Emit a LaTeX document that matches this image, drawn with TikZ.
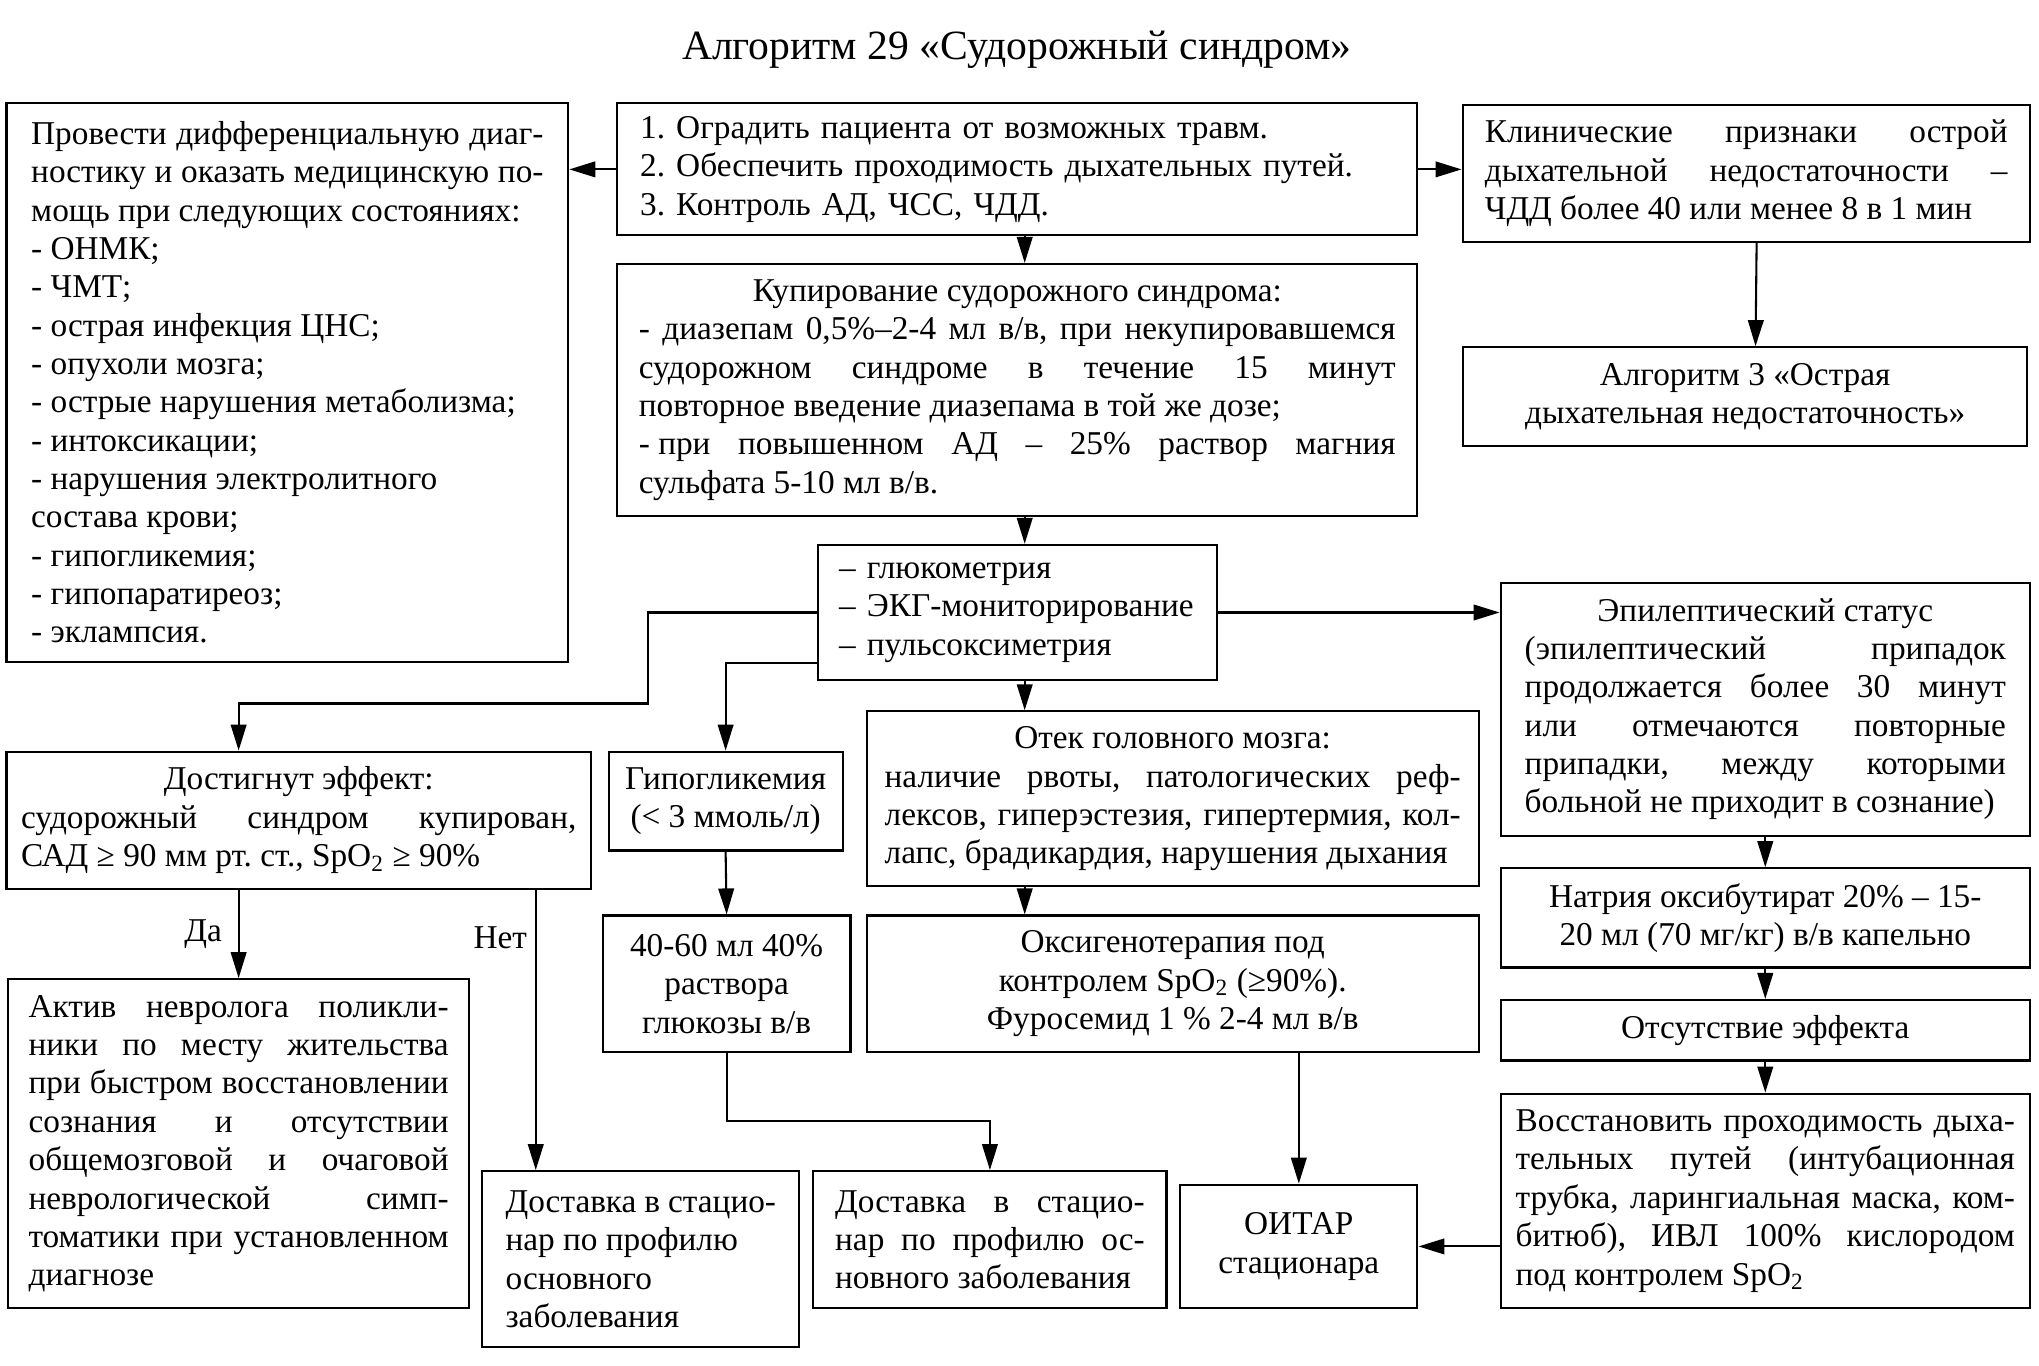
\documentclass[tikz,border=0pt]{standalone}
\usepackage{fontspec}
\setmainfont{Liberation Serif}
\usepackage{tikz}
\usetikzlibrary{arrows.meta,positioning}
\setlength{\parindent}{0pt}
\frenchspacing
\sloppy
\tikzset{
  blk/.style={ draw, line width=0.8pt, inner sep=0pt, font=\fontsize{12.8pt}{14.75pt}\selectfont }
}
\tikzset{
  jblk/.style={ blk, align=justify }
}
\tikzset{
  cblk/.style={ blk, align=center }
}
\tikzset{
  lblk/.style={ blk, align=left }
}
\tikzset{
  arr/.style={ -{Triangle[length=10pt,width=6pt]}, line width=0.8pt }
}
\begin{document}
\begin{tikzpicture}[x=0.5pt, y=-0.5pt]
      \fill[white] (0,0) rectangle (1568,1050);
      \useasboundingbox (0,0) rectangle (1568,1050);
      \node[font=\fontsize{16pt}{19pt}\selectfont] (title) at (782,38) {Алгоритм 29 «Судорожный синдром»};

      \node[jblk, minimum width=216pt, minimum height=214.75pt, text width=197pt] (diag) at (221,294)
        {Провести дифференциальную диаг-\linebreak ностику и оказать медицинскую по-\linebreak мощь при следующих состояниях:\\
         - ОНМК;\\ - ЧМТ;\\ - острая инфекция ЦНС;\\ - опухоли мозга;\\ - острые нарушения метаболизма;\\
         - интоксикации;\\ - нарушения электролитного\\ состава крови;\\ - гипогликемия;\\ - гипопаратиреоз;\\ - эклампсия.};
      \node[lblk, minimum width=307.7pt, minimum height=50.75pt, text width=290pt] (steps) at (782.3,130.25)
        {1. Оградить пациента от возможных травм.\\ 2. Обеспечить проходимость дыхательных путей.\\ 3. Контроль АД, ЧСС, ЧДД.};
      \node[jblk, minimum width=218.15pt, minimum height=52.65pt, text width=201pt] (clin) at (1342.85,133.35)
        {Клинические признаки острой\linebreak дыхательной недостаточности –\linebreak ЧДД более 40 или менее 8 в 1 мин};
      \node[jblk, minimum width=307.7pt, minimum height=97pt, text width=291pt] (kupir) at (782.3,300)
        {{\centering Купирование судорожного синдрома:\par}
         - диазепам 0,5\%–2-4 мл в/в, при некупировавшемся\linebreak судорожном синдроме в течение 15 минут\linebreak
         повторное введение диазепама в той же дозе;\\ -\hspace{0.25em}при повышенном АД – 25\% раствор магния\linebreak сульфата 5-10 мл в/в.};
      \node[cblk, minimum width=217pt, minimum height=38pt] (alg3) at (1342,305)
        {Алгоритм 3 «Острая\\ дыхательная недостаточность»};
      \node[lblk, minimum width=153.3pt, minimum height=52pt, text width=137pt] (gluc) at (782.3,471)
        {– глюкометрия\\ – ЭКГ-мониторирование\\ – пульсоксиметрия};
      \node[jblk, minimum width=203.5pt, minimum height=97.3pt, text width=185pt] (epi) at (1357.5,545.3)
        {{\centering Эпилептический статус\par}
         (эпилептический припадок\linebreak продолжается более 30 минут\linebreak или отмечаются повторные\linebreak
         припадки, между которыми\linebreak больной не приходит в сознание)};
      \node[jblk, minimum width=224.75pt, minimum height=52.75pt, text width=213.5pt] (dostig) at (229.75,630.75)
        {{\centering Достигнут эффект:\par}
         судорожный синдром купирован,\linebreak САД ≥ 90 мм рт. ст., SpO\textsubscript{2} ≥ 90\%};
      \node[cblk, minimum width=90pt, minimum height=38pt] (gipo) at (558,616)
        {Гипогликемия\\ (< 3 ммоль/л)};
      \node[jblk, minimum width=235.2pt, minimum height=67.3pt, text width=221.5pt] (otek) at (901.8,614.3)
        {{\centering Отек головного мозга:\par}
         наличие рвоты, патологических реф-\linebreak лексов, гиперэстезия, гипертермия, кол-\linebreak лапс, брадикардия, нарушения дыхания};
      \node[cblk, minimum width=203.5pt, minimum height=38.15pt] (natria) at (1357.5,705.85)
        {Натрия оксибутират 20\% – 15-\\ 20 мл (70 мг/кг) в/в капельно};
      \node[jblk, minimum width=177.5pt, minimum height=126.5pt, text width=161.5pt] (aktiv) at (183.5,879.5)
        {Актив невролога поликли-\linebreak ники по месту жительства\linebreak при быстром восстановлении\linebreak
         сознания и отсутствии\linebreak общемозговой и очаговой\linebreak неврологической симп-\linebreak
         томатики при установленном\linebreak диагнозе};
      \node[cblk, minimum width=95.25pt, minimum height=52.5pt] (glu40) at (558.75,756.5)
        {40-60 мл 40\%\\ раствора\\ глюкозы в/в};
      \node[cblk, minimum width=235.2pt, minimum height=52.5pt] (oksi) at (901.8,756.5)
        {Оксигенотерапия под\\ контролем SpO\textsubscript{2} (≥90\%).\\ Фуросемид 1 \% 2-4 мл в/в};
      \node[cblk, minimum width=203.5pt, minimum height=23.25pt] (otsut) at (1357.5,792.25)
        {Отсутствие эффекта};
      \node[jblk, minimum width=203.5pt, minimum height=82.5pt, text width=192pt] (vosst) at (1357.5,923.5)
        {Восстановить проходимость дыха-\linebreak тельных путей (интубационная\linebreak трубка, ларингиальная маска, ком-\linebreak
         битюб), ИВЛ 100\% кислородом\linebreak под контролем SpO\textsubscript{2}};
      \node[jblk, minimum width=121.8pt, minimum height=67.7pt, text width=104pt] (dost1) at (492.8,968.3)
        {Доставка в стацио-\linebreak нар по профилю\\ основного\\ заболевания};
      \node[jblk, minimum width=135.75pt, minimum height=52.7pt, text width=119pt] (dost2) at (761.25,953.3)
        {Доставка в стацио-\linebreak нар по профилю ос-\linebreak новного заболевания};
      \node[cblk, minimum width=91.2pt, minimum height=47.5pt] (oitar) at (998.8,958.5)
        {ОИТАР\\ стационара};

      \coordinate (ax) at (788,0);
      \coordinate (net) at (412,0);
      \coordinate (j1) at (498,541);

      \draw[arr] (steps.west) -- (steps.west -| diag.east);
      \draw[arr] (steps.east) -- (steps.east -| clin.west);
      \draw[arr] (steps.south -| ax) -- (kupir.north -| ax);
      \draw[arr] ([xshift=4pt]clin.south) -- ([xshift=4pt]alg3.north);
      \draw[arr] (kupir.south -| ax) -- (gluc.north -| ax);
      \draw[arr] (gluc.east) -- (gluc.east -| epi.west);
      \draw[arr] (gluc.west) -| (j1) -| (aktiv.north |- dostig.north);
      \draw[arr] ([yshift=7pt]gluc.south west) -| (gipo.north);
      \draw[arr] (gluc.south -| ax) -- (otek.north -| ax);

      \draw[arr] (aktiv.north |- dostig.south) -- node[left=6pt, blk, draw=none] {Да} (aktiv.north);
      \draw[arr] (dostig.south -| net) -- node[pos=0.17, left=3pt, blk, draw=none] {Нет} (dost1.north -| net);
      \draw[arr] (gipo.south) -- (glu40.north);
      \draw[arr] (glu40.south) -- ++(0,52.5) -| (dost2.north);
      \draw[arr] (otek.south -| ax) -- (oksi.north -| ax);
      \draw[arr] (oitar.north |- oksi.south) -- (oitar.north);

      \draw[arr] (epi.south) -- (natria.north);
      \draw[arr] (natria.south) -- (otsut.north);
      \draw[arr] (otsut.south) -- (vosst.north);
      \draw[arr] (vosst.west |- oitar.east) -- (oitar.east);
    \end{tikzpicture}
\end{document}
